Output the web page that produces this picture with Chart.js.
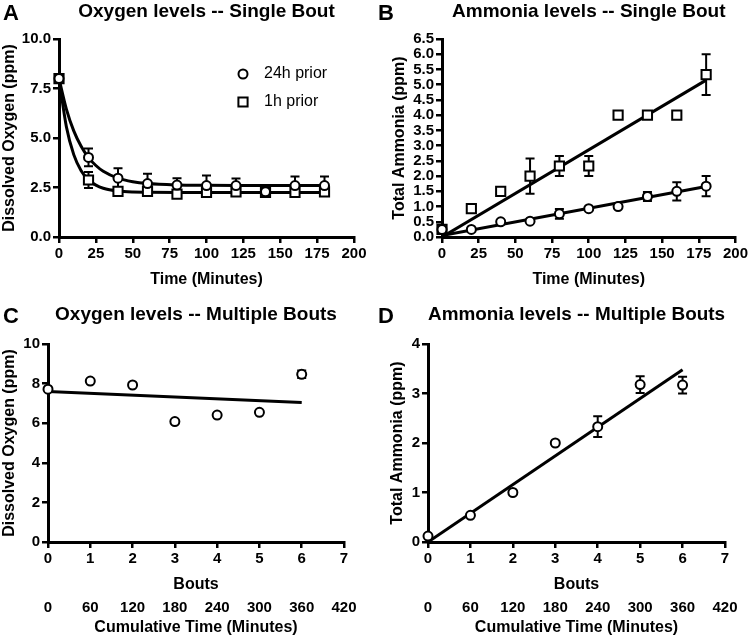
<!DOCTYPE html>
<html><head><meta charset="utf-8">
<script src="https://cdn.jsdelivr.net/npm/chart.js@4.4.1/dist/chart.umd.min.js"></script>
<style>
html,body{margin:0;padding:0;background:#fff;}
body{width:750px;height:638px;position:relative;overflow:hidden;font-family:'Liberation Sans',Arial,Helvetica,sans-serif;}
.pane{position:absolute;}
.letter{position:absolute;font-weight:bold;font-size:22px;line-height:22px;color:#000;}
</style></head><body>
<div class="pane" style="left:0;top:0;width:375px;height:300px"><canvas id="cA"></canvas></div>
<div class="pane" style="left:375px;top:0;width:375px;height:300px"><canvas id="cB"></canvas></div>
<div class="pane" style="left:0;top:300px;width:375px;height:338px"><canvas id="cC"></canvas></div>
<div class="pane" style="left:375px;top:300px;width:375px;height:338px"><canvas id="cD"></canvas></div>
<div class="letter" style="left:3px;top:2px">A</div>
<div class="letter" style="left:378px;top:2px">B</div>
<div class="letter" style="left:3px;top:305px">C</div>
<div class="letter" style="left:378px;top:305px">D</div>
<script>
// ---------- Panel A: Oxygen levels -- Single Bout ----------
const timeA = [0, 20, 40, 60, 80, 100, 120, 140, 160, 180];
const oxy24h = [8.0, 4.02, 2.97, 2.7, 2.62, 2.6, 2.6, 2.28, 2.6, 2.6];
const oxy24hErr = [0, 0.45, 0.5, 0.5, 0.35, 0.5, 0.35, 0, 0.45, 0.45];
const oxy1h = [8.0, 2.88, 2.3, 2.3, 2.17, 2.25, 2.28, 2.25, 2.25, 2.28];
const oxy1hErr = [0, 0.4, 0, 0, 0, 0, 0, 0, 0, 0];
const fitTimeA = [0, 5, 10, 15, 20, 25, 30, 40, 50, 60, 80, 100, 120, 140, 160, 180];
const oxy24hFit = [8.0, 6.46, 5.36, 4.58, 4.01, 3.61, 3.32, 2.97, 2.79, 2.70, 2.63, 2.61, 2.6, 2.6, 2.6, 2.6];
const oxy1hFit = [8.0, 5.57, 4.16, 3.35, 2.89, 2.62, 2.46, 2.32, 2.27, 2.26, 2.25, 2.25, 2.25, 2.25, 2.25, 2.25];

// ---------- Panel B: Ammonia levels -- Single Bout ----------
const timeB = [0, 20, 40, 60, 80, 100, 120, 140, 160, 180];
const nh3_24h = [0.25, 0.25, 0.5, 0.52, 0.76, 0.93, 1.0, 1.33, 1.5, 1.67];
const nh3_24hErr = [0, 0, 0, 0, 0.16, 0, 0, 0.15, 0.3, 0.33];
const nh3_1h = [0.25, 0.93, 1.5, 2.0, 2.33, 2.33, 4.0, 4.0, 4.0, 5.33];
const nh3_1hErr = [0, 0, 0, 0.58, 0.33, 0.33, 0, 0, 0, 0.67];
const fitTimeB = [0, 180];
const nh3_24hFit = [0.05, 1.66];
const nh3_1hFit = [0.0, 5.15];

// ---------- Panels C & D: Multiple Bouts ----------
const bouts = [0, 1, 2, 3, 4, 5, 6];
const cumulativeMinutes = [0, 60, 120, 180, 240, 300, 360, 420];
const oxyMulti = [7.72, 8.13, 7.93, 6.08, 6.41, 6.55, 8.47];
const oxyMultiErr = [0, 0, 0, 0, 0, 0, 0.19];
const fitBouts = [0, 6];
const oxyMultiFit = [7.6, 7.05];
const nh3Multi = [0.12, 0.54, 1.0, 2.0, 2.33, 3.18, 3.17];
const nh3MultiErr = [0, 0, 0, 0, 0.21, 0.17, 0.17];
const nh3MultiFit = [0.0, 3.48];

const legendLabels = ['24h prior', '1h prior'];

Chart.defaults.font.family = "'Liberation Sans', Arial, Helvetica, sans-serif";
Chart.defaults.color = '#000';
Chart.defaults.animation = false;

const xy = (xs, ys) => xs.map((x, i) => ({x: x, y: ys[i]}));

function markers(label, data, errs, style, r) {
  return {label: label, data: data, errors: errs, pointStyle: style, pointRadius: r, pointHoverRadius: r,
    pointBackgroundColor: '#fff', pointBorderColor: '#000', pointBorderWidth: 2,
    showLine: false, clip: false, order: 0};
}
function fitLine(data, smooth) {
  return {data: data, showLine: true, pointRadius: 0, pointHoverRadius: 0, borderColor: '#000', borderWidth: 3,
    tension: smooth ? 0.4 : 0, cubicInterpolationMode: smooth ? 'monotone' : 'default', fill: false, order: 1};
}

const errorBars = {
  id: 'errorBars',
  beforeDatasetsDraw(chart) {
    const ctx = chart.ctx;
    chart.data.datasets.forEach((ds, i) => {
      if (!ds.errors) return;
      const meta = chart.getDatasetMeta(i);
      const ys = chart.scales[meta.yAxisID];
      ctx.save();
      ctx.strokeStyle = '#000';
      ctx.lineWidth = 2;
      meta.data.forEach((pt, j) => {
        const e = ds.errors[j];
        if (!e) return;
        const v = ds.data[j].y;
        const t = ys.getPixelForValue(v + e), b = ys.getPixelForValue(v - e);
        ctx.beginPath();
        ctx.moveTo(pt.x, t); ctx.lineTo(pt.x, b);
        ctx.moveTo(pt.x - 4.5, t); ctx.lineTo(pt.x + 4.5, t);
        ctx.moveTo(pt.x - 4.5, b); ctx.lineTo(pt.x + 4.5, b);
        ctx.stroke();
      });
      ctx.restore();
    });
  }
};

const insideLegend = {
  id: 'insideLegend',
  afterDraw(chart, args, opts) {
    if (!opts || !opts.show) return;
    const ctx = chart.ctx, ca = chart.chartArea;
    ctx.save();
    opts.datasets.forEach((di, k) => {
      const ds = chart.data.datasets[di];
      const x = ca.left + opts.x, y = ca.top + opts.y + k * opts.gap;
      ctx.fillStyle = '#fff'; ctx.strokeStyle = '#000'; ctx.lineWidth = 2;
      ctx.beginPath();
      if (ds.pointStyle === 'circle') {
        ctx.arc(x, y, ds.pointRadius, 0, Math.PI * 2);
      } else {
        const s = ds.pointRadius * Math.SQRT1_2;
        ctx.rect(x - s, y - s, 2 * s, 2 * s);
      }
      ctx.fill(); ctx.stroke();
      ctx.fillStyle = '#000';
      ctx.font = "16px 'Liberation Sans', Arial, sans-serif";
      ctx.textBaseline = 'middle';
      ctx.textAlign = 'left';
      ctx.fillText(ds.label, x + opts.textDx, y);
    });
    ctx.restore();
  }
};

function xScale(min, max, step, text, height, titleBottom, cb) {
  return {type: 'linear', position: 'bottom', min: min, max: max, weight: 0,
    ticks: {stepSize: step, autoSkip: false, maxRotation: 0, padding: 2, color: '#000',
      font: {size: 15, weight: 'bold'}, callback: cb},
    grid: {display: true, drawOnChartArea: false, drawTicks: true, tickLength: 6, color: '#000', lineWidth: 2.5},
    border: {display: true, color: '#000', width: 3},
    title: {display: true, text: text, color: '#000', font: {size: 16, weight: 'bold'}, padding: {top: 0, bottom: titleBottom}},
    afterFit: s => { s.height = height; }
  };
}
function yScale(min, max, step, text, width, titleTop, cb) {
  return {type: 'linear', position: 'left', min: min, max: max,
    ticks: {stepSize: step, autoSkip: false, padding: 2, color: '#000',
      font: {size: 15, weight: 'bold'}, callback: cb},
    grid: {display: true, drawOnChartArea: false, drawTicks: true, tickLength: 6, color: '#000', lineWidth: 2.5},
    border: {display: true, color: '#000', width: 3},
    title: {display: true, text: text, color: '#000', font: {size: 16, weight: 'bold'}, padding: {top: titleTop, bottom: 0}},
    afterFit: s => { s.width = width; }
  };
}
function x2Scale(text, height) {
  return {type: 'linear', position: 'bottom', min: 0, max: 7, weight: 1,
    ticks: {stepSize: 1, autoSkip: false, maxRotation: 0, padding: 3, color: '#000',
      font: {size: 15, weight: 'bold'}, callback: v => cumulativeMinutes[v]},
    grid: {display: false, drawTicks: false},
    border: {display: false},
    title: {display: true, text: text, color: '#000', font: {size: 16, weight: 'bold'}, padding: {top: 0, bottom: 0.6}},
    afterFit: s => { s.height = height; }
  };
}
function baseOptions(title, titlePad, padRight, scales, legendOpts) {
  return {
    responsive: true, maintainAspectRatio: false, devicePixelRatio: 1, animation: false,
    layout: {padding: {left: 0, right: padRight, top: 0, bottom: 0}},
    plugins: {
      legend: {display: false}, tooltip: {enabled: false},
      title: {display: true, text: title, fullSize: false, color: '#000', font: {size: 19, weight: 'bold'}, padding: titlePad},
      insideLegend: legendOpts || {show: false}
    },
    scales: scales
  };
}

const fmt1 = v => Number(v).toFixed(1);
const fmt0 = v => String(v);

new Chart(document.getElementById('cA'), {
  type: 'scatter',
  data: {datasets: [
    markers(legendLabels[0], xy(timeA, oxy24h), oxy24hErr, 'circle', 4.5),
    markers(legendLabels[1], xy(timeA, oxy1h), oxy1hErr, 'rect', 6.5),
    fitLine(xy(fitTimeA, oxy24hFit), true),
    fitLine(xy(fitTimeA, oxy1hFit), true)
  ]},
  options: baseOptions('Oxygen levels -- Single Bout', {top: 0, bottom: 16.2}, 21, {
    x: xScale(0, 200, 25, 'Time (Minutes)', 63, 10.6, fmt0),
    y: yScale(0, 10, 2.5, 'Dissolved Oxygen (ppm)', 59, 0.4, fmt1)
  }, {show: true, datasets: [0, 1], x: 184, y: 35, gap: 28, textDx: 21}),
  plugins: [errorBars, insideLegend]
});

new Chart(document.getElementById('cB'), {
  type: 'scatter',
  data: {datasets: [
    markers(legendLabels[0], xy(timeB, nh3_24h), nh3_24hErr, 'circle', 4.5),
    markers(legendLabels[1], xy(timeB, nh3_1h), nh3_1hErr, 'rect', 6.5),
    fitLine(xy(fitTimeB, nh3_24hFit), false),
    fitLine(xy(fitTimeB, nh3_1hFit), false)
  ]},
  options: baseOptions('Ammonia levels -- Single Bout', {top: 0, bottom: 16.2}, 14, {
    x: xScale(0, 200, 25, 'Time (Minutes)', 63, 10.6, fmt0),
    y: yScale(0, 6.5, 0.5, 'Total Ammonia (ppm)', 67, 15.4, fmt1)
  }),
  plugins: [errorBars]
});

new Chart(document.getElementById('cC'), {
  type: 'scatter',
  data: {datasets: [
    markers('Dissolved oxygen', xy(bouts, oxyMulti), oxyMultiErr, 'circle', 4.5),
    fitLine(xy(fitBouts, oxyMultiFit), false)
  ]},
  options: baseOptions('Oxygen levels -- Multiple Bouts', {top: 3.6, bottom: 17.6}, 31, {
    x: xScale(0, 7, 1, 'Bouts', 53.6, 1, fmt0),
    x2: x2Scale('Cumulative Time (Minutes)', 42.4),
    y: yScale(0, 10, 2, 'Dissolved Oxygen (ppm)', 48, 0.4, fmt0)
  }),
  plugins: [errorBars]
});

new Chart(document.getElementById('cD'), {
  type: 'scatter',
  data: {datasets: [
    markers('Total ammonia', xy(bouts, nh3Multi), nh3MultiErr, 'circle', 4.5),
    fitLine(xy(fitBouts, nh3MultiFit), false)
  ]},
  options: baseOptions('Ammonia levels -- Multiple Bouts', {top: 3.6, bottom: 17.6}, 25, {
    x: xScale(0, 7, 1, 'Bouts', 53.6, 1, fmt0),
    x2: x2Scale('Cumulative Time (Minutes)', 42.4),
    y: yScale(0, 4, 1, 'Total Ammonia (ppm)', 53, 13.4, fmt0)
  }),
  plugins: [errorBars]
});
</script>
</body></html>
